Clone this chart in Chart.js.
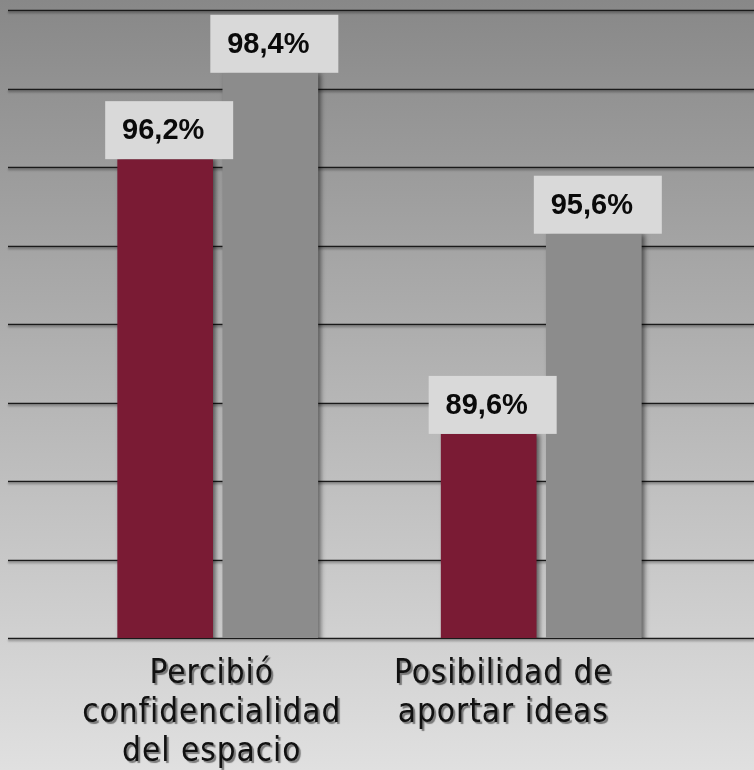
<!DOCTYPE html>
<html lang="es">
<head>
<meta charset="utf-8">
<title>Confidencialidad y aporte de ideas</title>
<script src="https://cdn.jsdelivr.net/npm/chart.js@4.4.1/dist/chart.umd.min.js"></script>
<style>
    html, body { margin: 0; padding: 0; }
    #chart-wrapper { width: 754px; height: 770px; position: relative; }
</style>
</head>
<body>
<div id="chart-wrapper">
    <canvas id="ideas-chart" aria-label="Percepción de confidencialidad y posibilidad de aportar ideas"></canvas>
</div>
<script>
const categories = [['Percibió', 'confidencialidad', 'del espacio'], ['Posibilidad de', 'aportar ideas']];
// bar heights as drawn in the picture (axis 84-100)
const redValues = [96.2, 89.2];
const grayValues = [98.4, 94.3];
// printed data labels
const redLabels = ['96,2%', '89,6%'];
const grayLabels = ['98,4%', '95,6%'];
const gridTicks = [84, 86, 88, 90, 92, 94, 96, 98, 100];

const labelNudge = [-6, -38];

const backgroundPlugin = {
    id: 'greyBackground',
    beforeDraw(chart) {
        const { ctx, width, height } = chart;
        const grad = ctx.createLinearGradient(0, 0, 0, height);
        grad.addColorStop(0, '#888888');
        grad.addColorStop(1, '#e0e0e0');
        ctx.save();
        ctx.fillStyle = grad;
        ctx.fillRect(0, 0, width, height);
        ctx.restore();
    }
};

const gridPlugin = {
    id: 'wideGrid',
    beforeDatasetsDraw(chart) {
        const { ctx, width } = chart;
        const y = chart.scales.y;
        ctx.save();
        ctx.strokeStyle = '#1a1a1a';
        ctx.lineWidth = 1.6;
        ctx.shadowColor = 'rgba(0, 0, 0, 0.35)';
        ctx.shadowOffsetY = 2;
        ctx.shadowBlur = 2;
        gridTicks.forEach(v => {
            const py = Math.round(y.getPixelForValue(v)) + 0.5;
            ctx.beginPath();
            ctx.moveTo(8, py);
            ctx.lineTo(width, py);
            ctx.stroke();
        });
        ctx.restore();
    }
};

const barShadowPlugin = {
    id: 'barShadow',
    beforeDatasetsDraw(chart) {
        const ctx = chart.ctx;
        ctx.save();
        ctx.shadowColor = 'rgba(0, 0, 0, 0.55)';
        ctx.shadowOffsetX = 3;
        ctx.shadowBlur = 5;
    },
    afterDatasetsDraw(chart) {
        chart.ctx.restore();
    }
};

const valueBoxPlugin = {
    id: 'valueBoxes',
    afterDatasetsDraw(chart) {
        const ctx = chart.ctx;
        ctx.save();
        ctx.font = 'bold 29px "Liberation Sans", Arial, sans-serif';
        ctx.textAlign = 'center';
        ctx.textBaseline = 'middle';
        chart.data.datasets.forEach((ds, di) => {
            chart.getDatasetMeta(di).data.forEach((bar, i) => {
                const boxW = 128;
                const boxH = 58;
                ctx.fillStyle = '#d9d9d9';
                ctx.fillRect(bar.x + 4 - boxW / 2, bar.y - boxH, boxW, boxH);
                ctx.fillStyle = '#0a0a0a';
                ctx.fillText(ds.valueLabels[i], bar.x - 2, bar.y - boxH / 2 + 1);
            });
        });
        ctx.restore();
    }
};

const categoryLabelPlugin = {
    id: 'categoryLabels',
    afterDraw(chart) {
        const { ctx, chartArea } = chart;
        const x = chart.scales.x;
        ctx.save();
        ctx.font = '33px "DejaVu Sans Condensed", "DejaVu Sans", sans-serif';
        ctx.letterSpacing = '1px';
        ctx.textAlign = 'center';
        ctx.textBaseline = 'alphabetic';
        ctx.fillStyle = '#111111';
        ctx.shadowColor = 'rgba(0, 0, 0, 0.45)';
        ctx.shadowOffsetX = 2;
        ctx.shadowOffsetY = 2;
        ctx.shadowBlur = 1;
        categories.forEach((lines, i) => {
            const cx = x.getPixelForValue(i) + labelNudge[i];
            lines.forEach((line, li) => {
                ctx.fillText(line, cx, chartArea.bottom + 45 + li * 39);
            });
        });
        ctx.restore();
    }
};

const ctx = document.getElementById('ideas-chart').getContext('2d');

new Chart(ctx, {
    type: 'bar',
    data: {
        labels: categories,
        datasets: [{
            label: 'Serie 1',
            data: redValues,
            valueLabels: redLabels,
            backgroundColor: '#7a1b34',
            barPercentage: 0.91,
            categoryPercentage: 0.65
        }, {
            label: 'Serie 2',
            data: grayValues,
            valueLabels: grayLabels,
            backgroundColor: '#8c8c8c',
            barPercentage: 0.91,
            categoryPercentage: 0.65
        }]
    },
    options: {
        responsive: true,
        maintainAspectRatio: false,
        animation: false,
        layout: {
            padding: { top: 10, left: 56, right: 51, bottom: 132 }
        },
        scales: {
            x: {
                display: false
            },
            y: {
                display: false,
                min: 84,
                max: 100,
                ticks: { stepSize: 2 }
            }
        },
        plugins: {
            legend: { display: false },
            tooltip: { enabled: false }
        }
    },
    plugins: [backgroundPlugin, gridPlugin, barShadowPlugin, valueBoxPlugin, categoryLabelPlugin]
});
</script>
</body>
</html>
